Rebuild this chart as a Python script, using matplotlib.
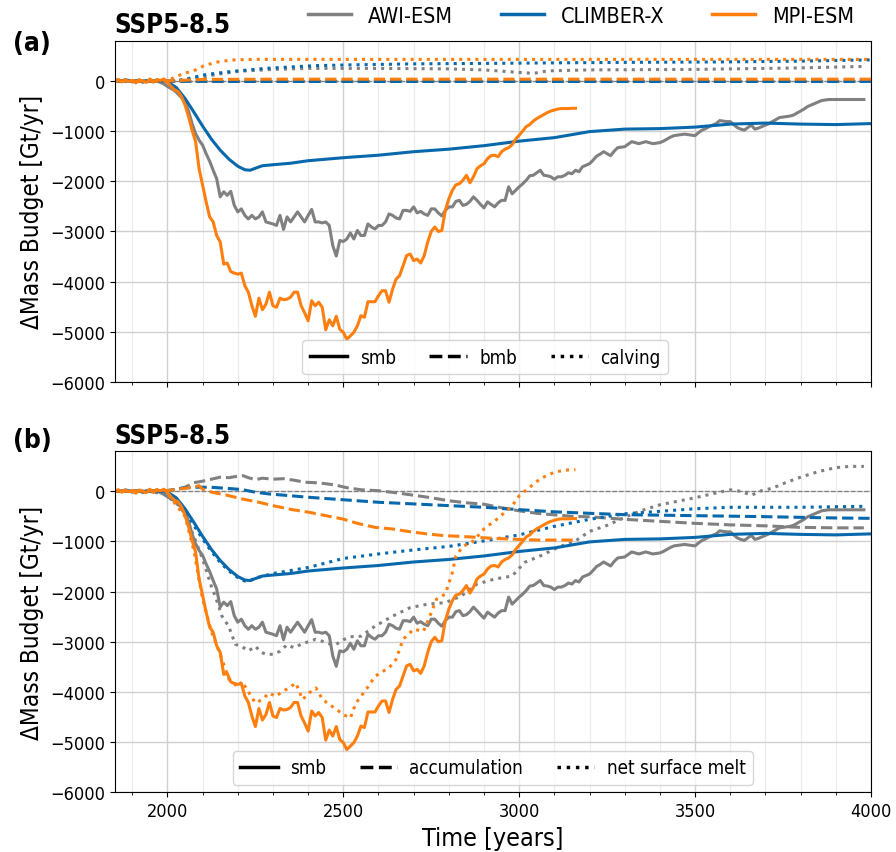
import numpy as np
import matplotlib
matplotlib.use("Agg")
import matplotlib.pyplot as plt
from matplotlib.lines import Line2D
from matplotlib.ticker import MultipleLocator

plt.rcParams['font.family'] = ['DejaVu Sans']
plt.rcParams['font.stretch'] = 'condensed'

models = ["AWI-ESM", "CLIMBER-X", "MPI-ESM"]
colors = {"AWI-ESM": "grey", "CLIMBER-X": "#0868ac", "MPI-ESM": "#ff7f0e"}

# surface mass balance, 10-year steps from 1850
awi_smb = [0, 20, -10, 30, 10, -20, 0, 20, -30, 10,
           0, -20, 10, -30, -60, -110, -150, -190, -260, -330,
           -430, -600, -850, -1050, -1180, -1280, -1450, -1600, -1780, -1950,
           -2310, -2210, -2280, -2200, -2480, -2610, -2550, -2680, -2750, -2680,
           -2750, -2710, -2610, -2810, -2830, -2850, -2880, -2680, -2960, -2710,
           -2810, -2710, -2610, -2710, -2810, -2680, -2560, -2810, -2810, -2830,
           -2810, -2880, -3280, -3490, -3180, -3200, -3150, -3030, -3150, -2980,
           -3080, -3080, -2850, -2910, -2950, -2880, -2880, -2810, -2650, -2680,
           -2730, -2750, -2580, -2580, -2600, -2510, -2630, -2600, -2650, -2680,
           -2550, -2550, -2630, -2690, -2580, -2510, -2510, -2400, -2380, -2480,
           -2460, -2400, -2310, -2380, -2460, -2530, -2410, -2460, -2510, -2430,
           -2380, -2380, -2110, -2250, -2180, -2110, -2050, -1980, -1890, -1880,
           -1830, -1780, -1880, -1890, -1910, -1960, -1910, -1910, -1880, -1830,
           -1850, -1780, -1810, -1710, -1680, -1650, -1580, -1500, -1460, -1410,
           -1450, -1490, -1400, -1330, -1320, -1310, -1260, -1210, -1230, -1250,
           -1230, -1210, -1230, -1250, -1240, -1230, -1200, -1160, -1120, -1090,
           -1080, -1070, -1060, -1070, -1080, -1090, -1030, -980, -950, -910,
           -880, -850, -790, -800, -810, -810, -870, -930, -960, -980,
           -930, -880, -960, -940, -910, -880, -850, -810, -770, -730,
           -720, -710, -700, -680, -640, -600, -560, -510, -480, -450,
           -420, -390, -380, -370, -370, -370, -370, -370, -370, -370,
           -370, -370, -370, -370]
mpi_smb = [0, 30, -20, 20, -10, 10, -40, 20, 0, -30,
           40, -20, 30, 10, 40, -25, -110, -180, -210, -310,
           -480, -710, -980, -1210, -1750, -2080, -2410, -2710, -2810, -3080,
           -3210, -3650, -3630, -3800, -3830, -3850, -3830, -4080, -4210, -4480,
           -4690, -4330, -4560, -4450, -4210, -4480, -4510, -4330, -4360, -4350,
           -4310, -4210, -4210, -4480, -4620, -4780, -4380, -4480, -4410, -4510,
           -4960, -4760, -4880, -4690, -4950, -5010, -5150, -5080, -5010, -4880,
           -4680, -4710, -4400, -4400, -4400, -4280, -4180, -4180, -4410, -4150,
           -3950, -3880, -3680, -3480, -3450, -3580, -3550, -3630, -3480, -3210,
           -3000, -2910, -3000, -2980, -2580, -2350, -2180, -2070, -2050, -1980,
           -1880, -2030, -1910, -1750, -1690, -1650, -1550, -1490, -1480, -1510,
           -1410, -1360, -1330, -1270, -1160, -1080, -1000, -910, -870, -800,
           -750, -710, -670, -630, -600, -580, -560, -550, -550, -550,
           -545, -545]
awi_t = 1850 + 10 * np.arange(len(awi_smb))
mpi_t = 1850 + 10 * np.arange(len(mpi_smb))

clim_t = [1850, 1990, 2000, 2025, 2050, 2075, 2100, 2125, 2150, 2175, 2200, 2220, 2235,
          2250, 2270, 2300, 2350, 2400, 2450, 2500, 2600, 2700, 2800, 2900, 3000, 3100,
          3200, 3300, 3400, 3500, 3600, 3700, 3800, 3900, 4000]
clim_smb = [0, 0, -20, -130, -350, -620, -900, -1160, -1380, -1560, -1700, -1770, -1780,
            -1740, -1690, -1670, -1640, -1590, -1560, -1530, -1480, -1410, -1360, -1290,
            -1200, -1130, -1010, -960, -950, -920, -860, -840, -860, -870, -850]

# basal melt (panel a)
awi_bmb_t, awi_bmb = [1850, 3980], [0, 0]
clim_bmb_t, clim_bmb = [1850, 2000, 2200, 4000], [0, 0, -10, -10]
mpi_bmb_t, mpi_bmb = [1850, 2000, 2100, 2300, 4000], [0, 0, 30, 35, 35]

# calving (panel a)
awi_calv_t = [1850, 2000, 2050, 2100, 2150, 2200, 2300, 2400, 2600, 2800, 2900, 2980,
              3040, 3080, 3200, 3500, 3800, 3985]
awi_calv = [0, 0, 20, 80, 140, 190, 230, 250, 250, 240, 220, 180, 150, 200, 220, 230, 260, 290]
clim_calv_t = [1850, 2020, 2050, 2080, 2103, 2136, 2184, 2231, 2279, 2327, 2422, 2517,
               2700, 3000, 3300, 3600, 3800, 4000]
clim_calv = [0, 0, 30, 80, 120, 150, 190, 220, 250, 270, 305, 320, 340, 355, 370, 380, 395, 420]
mpi_calv_t = [1850, 1995, 2017, 2046, 2074, 2103, 2127, 2150, 2190, 2250, 4000]
mpi_calv = [0, 0, 60, 150, 200, 300, 350, 390, 420, 430, 430]

# accumulation (panel b)
awi_acc_t = [1850, 2000, 2025, 2050, 2075, 2100, 2125, 2150, 2175, 2200, 2215, 2230, 2250,
             2270, 2300, 2330, 2360, 2390, 2420, 2450, 2480, 2510, 2550, 2600, 2650, 2700,
             2750, 2800, 2850, 2900, 2950, 3000, 3050, 3100, 3150, 3200, 3300, 3400, 3500,
             3600, 3700, 3800, 3900, 3980]
awi_acc = [0, 0, 30, 80, 170, 200, 240, 280, 270, 300, 310, 270, 230, 260, 240, 250, 220,
           180, 170, 150, 120, 70, 30, 10, -30, -80, -130, -190, -230, -260, -330, -390,
           -440, -470, -500, -510, -560, -600, -640, -670, -690, -720, -730, -730]
clim_acc_t = [1850, 2000, 2040, 2080, 2120, 2165, 2212, 2250, 2290, 2350, 2400, 2450, 2500,
              2600, 2700, 2800, 2900, 3000, 3100, 3200, 3300, 3500, 3700, 3900, 4000]
clim_acc = [0, 13, 60, 80, 80, 60, 33, -20, -55, -90, -120, -145, -170, -220, -253, -287,
            -320, -367, -410, -440, -467, -487, -507, -533, -540]
mpi_acc_t = [1850, 2000, 2040, 2070, 2090, 2100, 2127, 2165, 2212, 2260, 2308, 2355, 2403,
             2450, 2498, 2540, 2590, 2640, 2690, 2740, 2790, 2835, 2880, 2930, 2980, 3015,
             3060, 3160]
mpi_acc = [0, 13, 50, 80, 110, 40, -20, -73, -153, -220, -300, -367, -420, -487, -553, -640,
           -720, -753, -807, -853, -887, -900, -920, -940, -953, -967, -973, -973]

# net surface melt (panel b)
awi_melt_t = [1850, 1950, 1990, 2000, 2025, 2050, 2075, 2100, 2125, 2136, 2155, 2174, 2193,
              2212, 2231, 2250, 2265, 2279, 2300, 2320, 2340, 2360, 2380, 2400, 2422, 2440,
              2460, 2480, 2500, 2520, 2550, 2590, 2640, 2690, 2740, 2790, 2835, 2880, 2930,
              2980, 3015, 3060, 3110, 3160, 3200, 3250, 3300, 3350, 3400, 3450, 3500, 3550,
              3600, 3630, 3660, 3690, 3720, 3750, 3800, 3850, 3900, 3940, 3980]
awi_melt = [0, 0, -60, -110, -230, -450, -900, -1350, -1900, -2090, -2490, -2690, -3050,
            -3100, -3180, -3090, -3200, -3250, -3250, -3190, -3060, -3120, -3050, -3000,
            -2950, -2990, -3040, -3050, -2960, -2900, -2890, -2690, -2490, -2320, -2250,
            -2220, -2090, -1850, -1750, -1690, -1420, -1290, -1120, -990, -800, -680, -520,
            -380, -270, -200, -130, -50, 27, 0, -80, 13, 60, 150, 280, 390, 470, 495, 495]
clim_melt_t = [1850, 1990, 2000, 2025, 2050, 2075, 2100, 2125, 2150, 2175, 2200, 2220, 2235,
               2250, 2300, 2400, 2500, 2600, 2700, 2800, 2900, 3000, 3100, 3200, 3300, 3400,
               3500, 3600, 3800, 3985]
clim_melt = [0, 0, -30, -150, -380, -680, -950, -1200, -1420, -1590, -1720, -1790, -1780,
             -1730, -1640, -1520, -1340, -1250, -1170, -1100, -990, -870, -700, -560, -450,
             -400, -350, -320, -320, -300]
mpi_melt_t = [1850, 1990, 2000, 2025, 2050, 2075, 2100, 2125, 2150, 2175, 2200, 2212, 2231,
              2250, 2270, 2289, 2308, 2327, 2346, 2365, 2384, 2403, 2422, 2441, 2460, 2479,
              2500, 2520, 2536, 2550, 2570, 2590, 2610, 2630, 2650, 2670, 2700, 2728, 2746,
              2765, 2790, 2810, 2820, 2840, 2870, 2900, 2940, 2980, 3000, 3030, 3060, 3100,
              3130, 3160]
mpi_melt = [0, 30, -40, -280, -500, -1180, -2150, -2800, -3250, -3750, -3900, -3790, -4010,
            -4220, -4150, -4020, -4090, -3990, -3920, -3820, -4150, -4020, -3920, -4150,
            -4250, -4340, -4450, -4520, -4220, -4090, -3900, -3690, -3600, -3520, -3350,
            -2950, -2750, -2790, -2490, -2150, -2050, -1620, -1290, -1100, -990, -750, -540,
            -290, -90, 80, 250, 380, 420, 430]

lw = 2.2
fig = plt.figure(figsize=(8.96, 8.53), dpi=100)
ax_a = fig.add_axes([0.128, 0.551, 0.844, 0.400])
ax_b = fig.add_axes([0.128, 0.070, 0.844, 0.400])

smb = {"AWI-ESM": (awi_t, awi_smb), "CLIMBER-X": (clim_t, clim_smb), "MPI-ESM": (mpi_t, mpi_smb)}
bmb = {"AWI-ESM": (awi_bmb_t, awi_bmb), "CLIMBER-X": (clim_bmb_t, clim_bmb), "MPI-ESM": (mpi_bmb_t, mpi_bmb)}
calv = {"AWI-ESM": (awi_calv_t, awi_calv), "CLIMBER-X": (clim_calv_t, clim_calv), "MPI-ESM": (mpi_calv_t, mpi_calv)}
acc = {"AWI-ESM": (awi_acc_t, awi_acc), "CLIMBER-X": (clim_acc_t, clim_acc), "MPI-ESM": (mpi_acc_t, mpi_acc)}
melt = {"AWI-ESM": (awi_melt_t, awi_melt), "CLIMBER-X": (clim_melt_t, clim_melt), "MPI-ESM": (mpi_melt_t, mpi_melt)}

for ax in (ax_a, ax_b):
    ax.axhline(0, color="grey", ls="--", lw=0.9, zorder=1)

for m in models:
    c = colors[m]
    ax_a.plot(*bmb[m], color=c, ls="--", lw=lw)
    ax_a.plot(*calv[m], color=c, ls=":", lw=lw)
    ax_a.plot(*smb[m], color=c, ls="-", lw=lw)
    ax_b.plot(*acc[m], color=c, ls="--", lw=lw)
    ax_b.plot(*melt[m], color=c, ls=":", lw=lw)
    ax_b.plot(*smb[m], color=c, ls="-", lw=lw)

for ax in (ax_a, ax_b):
    ax.set_xlim(1850, 4000)
    ax.set_ylim(-6000, 800)
    ax.xaxis.set_major_locator(MultipleLocator(500))
    ax.xaxis.set_minor_locator(MultipleLocator(100))
    ax.yaxis.set_major_locator(MultipleLocator(1000))
    ax.grid(which="major", color="#d0d0d0", lw=1.0)
    ax.grid(which="minor", axis="x", color="#ececec", lw=0.9)
    ax.set_axisbelow(True)
    ax.tick_params(labelsize=13)
    ax.set_ylabel("ΔMass Budget [Gt/yr]", fontsize=17.5)
    ax.set_title("SSP5-8.5", loc="left", fontweight="bold", fontsize=18.5, pad=6)

ax_a.tick_params(labelbottom=False)
ax_b.set_xlabel("Time [years]", fontsize=18)

fig.text(0.015, 0.948, "(a)", fontweight="bold", fontsize=19, va="center")
fig.text(0.015, 0.483, "(b)", fontweight="bold", fontsize=19, va="center")

h_a = [Line2D([], [], color="k", ls=s, lw=2.5) for s in ("-", "--", ":")]
leg_kw = dict(loc="lower center", ncol=3, fontsize=13.5, handlelength=2.0,
              handletextpad=0.65, columnspacing=1.8, borderaxespad=0.4)
ax_a.legend(h_a, ["smb", "bmb", "calving"], bbox_to_anchor=(0.49, 0.0), **leg_kw)
ax_b.legend(h_a, ["smb", "accumulation", "net surface melt"], bbox_to_anchor=(0.5, 0.0), **leg_kw)

h_top = [Line2D([], [], color=colors[m], lw=2.5) for m in models]
fig.legend(h_top, models, loc="upper right", bbox_to_anchor=(0.975, 1.015), ncol=3,
           frameon=False, fontsize=15.5, handlelength=2.0, columnspacing=2.2)

fig.savefig("out.png", dpi=100)
